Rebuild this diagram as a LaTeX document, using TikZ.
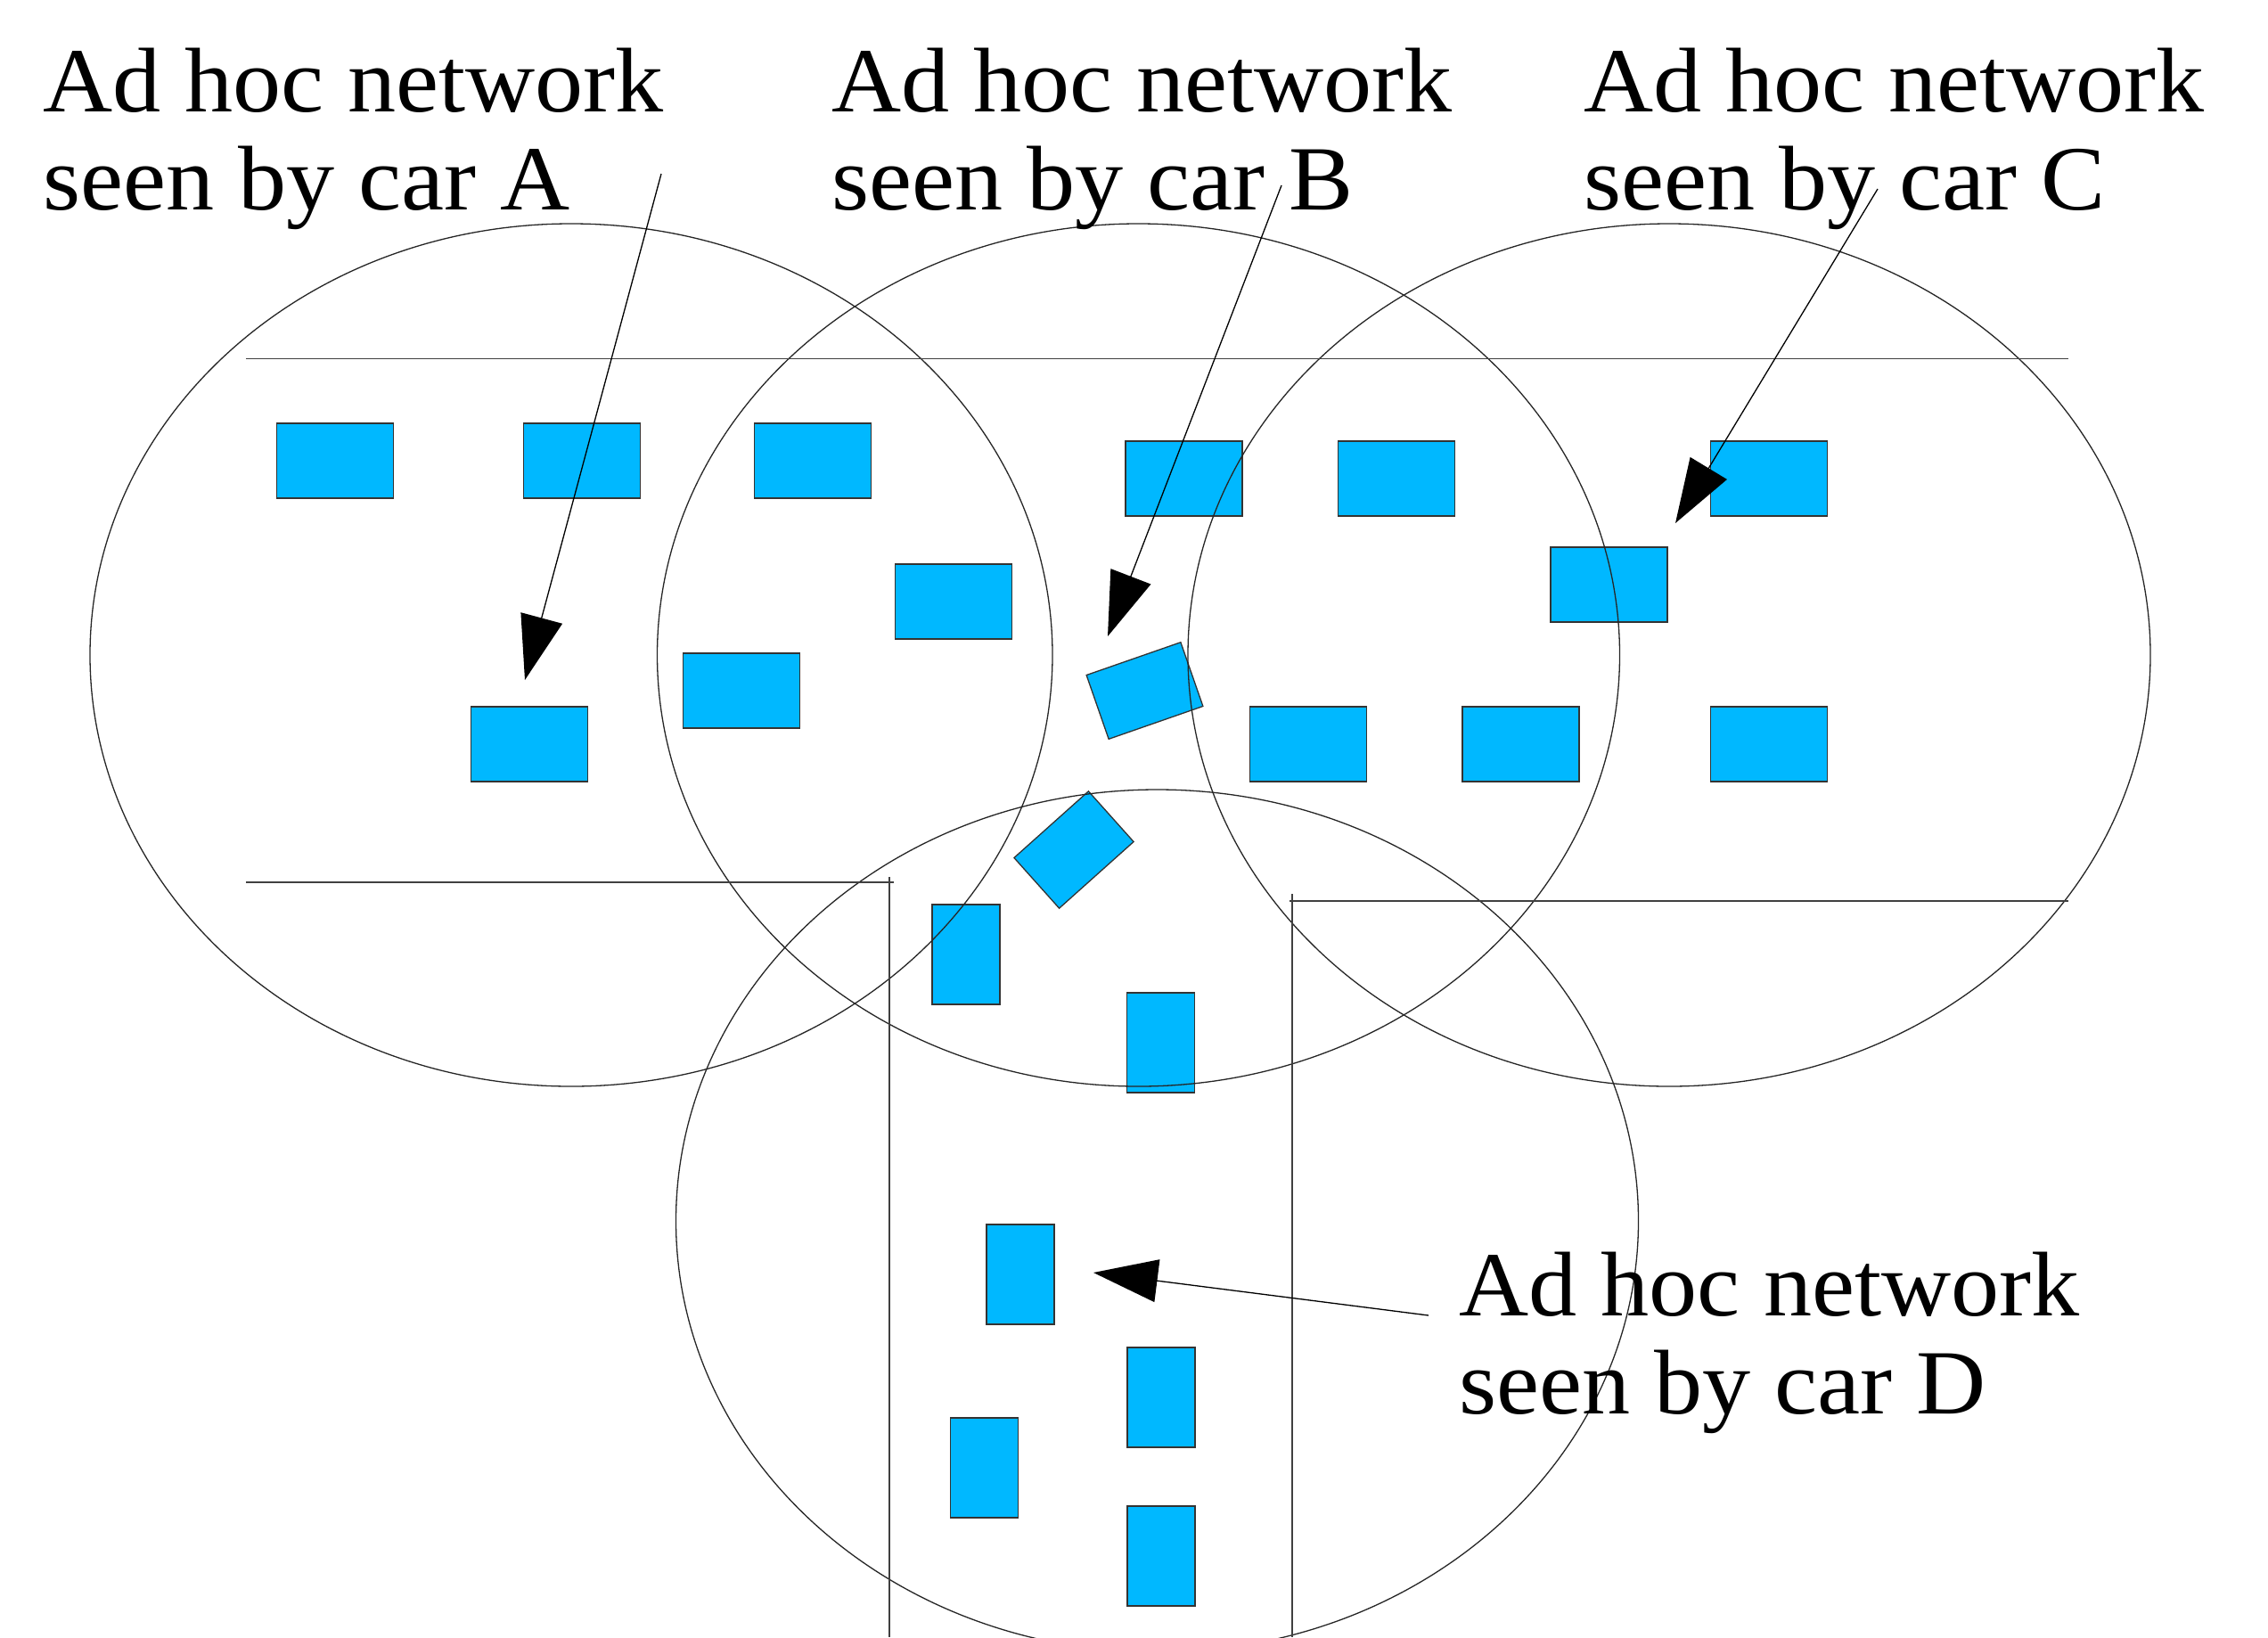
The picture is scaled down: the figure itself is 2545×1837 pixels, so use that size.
\documentclass[tikz,border=0pt]{standalone}
\usepackage{fontspec}
\setmainfont{Liberation Serif}
\usetikzlibrary{arrows.meta}
\definecolor{carblue}{RGB}{0,184,255}
\begin{document}
\begin{tikzpicture}[x=1pt,y=-1pt,
  road/.style={line width=1.4pt, draw=black!75},
  zone/.style={line width=1.3pt, draw=black!85},
  carbox/.style={draw=black!80, line width=1.3pt, fill=carblue, inner sep=0pt, shape=rectangle},
  hcar/.style={carbox, minimum width=131pt, minimum height=84pt},
  vcar/.style={carbox, minimum width=76pt, minimum height=112pt},
  rcar/.style={carbox, minimum width=112pt, minimum height=76pt},
  lbl/.style={font=\fontsize{103}{110}\selectfont, align=left, inner sep=0pt, anchor=base west, xscale=1.05},
  ptr/.style={line width=1.3pt, draw=black, fill=black, -{Triangle[length=72pt,width=48pt]}},
]
\useasboundingbox (0,0) rectangle (2545,1837);
\clip (0,0) rectangle (2545,1837);

% cars
\node[hcar] (c1) at (376,517) {};
\node[hcar] (c2) at (653,517) {};
\node[hcar] (c3) at (912,517) {};
\node[hcar] (c4) at (1328.5,537) {};
\node[hcar] (c5) at (1567,537) {};
\node[hcar] (c6) at (1985,537) {};
\node[hcar] (c7) at (1070,675) {};
\node[hcar] (c8) at (1805.5,656) {};
\node[hcar] (c9) at (832,775) {};
\node[hcar] (c10) at (594,835) {};
\node[hcar] (c11) at (1468,835) {};
\node[hcar] (c12) at (1706.5,835) {};
\node[hcar] (c13) at (1985,835) {};
\node[vcar] (c14) at (1084,1071) {};
\node[vcar] (c15) at (1302.5,1170) {};
\node[vcar] (c16) at (1145,1430) {};
\node[vcar] (c17) at (1303,1568) {};
\node[vcar] (c18) at (1104.5,1647) {};
\node[vcar] (c19) at (1303,1746) {};
\node[rcar, rotate=19.2] (c20) at (1284.5,775) {};
\node[rcar, rotate=41.8] (c21) at (1205,953.5) {};

% coverage zones
\draw[zone] (641,735) ellipse [x radius=540, y radius=484];
\draw[zone] (1277.5,735) ellipse [x radius=540, y radius=484];
\draw[zone] (1873,735) ellipse [x radius=540, y radius=484];
\draw[zone] (1298.5,1370) ellipse [x radius=540, y radius=484];

% roads
\coordinate (r1a) at (276,402.5);
\coordinate (r1b) at (2321,402.5);
\coordinate (r2a) at (276,990);
\coordinate (r2b) at (1003,990);
\coordinate (r3a) at (998,984);
\coordinate (r3b) at (998,1837);
\coordinate (r4a) at (1447,1011);
\coordinate (r4b) at (2321,1011);
\coordinate (r5a) at (1450,1003);
\coordinate (r5b) at (1450,1837);
\draw[road] (r1a) -- (r1b);
\draw[road] (r2a) -- (r2b);
\draw[road] (r3a) -- (r3b);
\draw[road] (r4a) -- (r4b);
\draw[road] (r5a) -- (r5b);

% labels (anchor = baseline of the last line)
\node[lbl] (la) at (48,235) {Ad hoc network\\seen by car A};
\node[lbl] (lb) at (933,235) {Ad hoc network\\seen by car B};
\node[lbl] (lc) at (1777,235) {Ad hoc network\\seen by car C};
\node[lbl] (ld) at (1637,1586) {Ad hoc network\\seen by car D};

% pointers
\coordinate (sa) at (742,195);
\coordinate (ta) at (589,763);
\coordinate (sb) at (1438,208);
\coordinate (tb) at (1243,714);
\coordinate (sc) at (2107,212);
\coordinate (tc) at (1880,587);
\coordinate (sd) at (1603,1476);
\coordinate (td) at (1227,1428);
\draw[ptr] (sa) -- (ta);
\draw[ptr] (sb) -- (tb);
\draw[ptr] (sc) -- (tc);
\draw[ptr] (sd) -- (td);
\end{tikzpicture}
\end{document}
